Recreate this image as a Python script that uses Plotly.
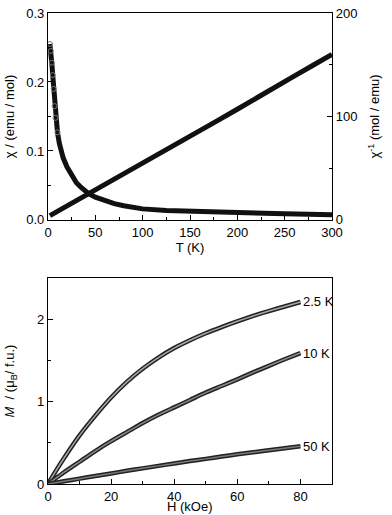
import plotly.graph_objects as go

# --- top panel: susceptibility vs temperature ---
T_chi = [2, 3, 4, 5, 6, 7, 8, 10, 12, 14, 16, 20, 25, 30, 35, 43, 50, 60, 70, 80,
         100, 125, 150, 175, 200, 225, 250, 275, 300]
chi = [0.255, 0.245, 0.228, 0.21, 0.19, 0.165, 0.148, 0.127, 0.111, 0.1, 0.09, 0.077,
       0.064, 0.054, 0.047, 0.038, 0.033, 0.0275, 0.0235, 0.0205, 0.016, 0.0138,
       0.0125, 0.0115, 0.0106, 0.0097, 0.0089, 0.0082, 0.0076]

T_inv = [2, 10, 20, 30, 43, 60, 80, 100, 120, 140, 160, 180, 200, 220, 240, 260, 280, 300]
chi_inv = [4.1, 8.2, 13.3, 18.5, 25.4, 34, 44, 54.5, 65, 75.5, 86, 96.5, 107, 118,
           128.5, 139, 149.5, 160]

chi_ticks = [0.0, 0.1, 0.2, 0.3]
chi_inv_ticks = [0, 100, 200]
T_ticks = [0, 50, 100, 150, 200, 250, 300]

# --- bottom panel: magnetization vs field ---
H = [0, 2.5, 5, 10, 15, 20, 25, 30, 35, 40, 45, 50, 55, 60, 65, 70, 75, 80]
M_2p5K = [0, 0.16, 0.31, 0.59, 0.83, 1.05, 1.24, 1.40, 1.535, 1.65, 1.745, 1.83,
          1.905, 1.975, 2.04, 2.1, 2.155, 2.21]
M_10K = [0, 0.07, 0.14, 0.27, 0.4, 0.52, 0.63, 0.74, 0.84, 0.93, 1.02, 1.11, 1.19,
         1.27, 1.355, 1.435, 1.515, 1.59]
M_50K = [0, 0.016, 0.033, 0.065, 0.097, 0.128, 0.16, 0.19, 0.22, 0.25, 0.278, 0.305,
         0.333, 0.36, 0.385, 0.41, 0.434, 0.458]
curve_labels = ["2.5 K", "10 K", "50 K"]
H_ticks = [0, 20, 40, 60, 80]
M_ticks = [0, 1, 2]

FONT = "Liberation Sans, Arial, sans-serif"

fig = go.Figure()

fig.add_trace(go.Scatter(x=T_chi, y=chi, mode="lines", xaxis="x", yaxis="y",
                         line=dict(color="#111111", width=5), showlegend=False))
fig.add_trace(go.Scatter(x=T_chi[:8], y=chi[:8], mode="markers", xaxis="x", yaxis="y",
                         marker=dict(symbol="circle-open", size=5, color="#777777",
                                     line=dict(width=1)), showlegend=False))
fig.add_trace(go.Scatter(x=T_inv, y=chi_inv, mode="lines", xaxis="x", yaxis="y2",
                         line=dict(color="#111111", width=5), showlegend=False))

for M, lab, inner in zip([M_2p5K, M_10K, M_50K], curve_labels,
                         ["#a8a8a8", "#8a8a8a", "#7a7a7a"]):
    fig.add_trace(go.Scatter(x=H, y=M, mode="lines", xaxis="x2", yaxis="y3",
                             line=dict(color="#222222", width=4.5, shape="spline",
                                       smoothing=0.6), showlegend=False))
    fig.add_trace(go.Scatter(x=H, y=M, mode="lines", xaxis="x2", yaxis="y3",
                             line=dict(color=inner, width=1.5, shape="spline",
                                       smoothing=0.6), showlegend=False))
    fig.add_annotation(x=H[-1], y=M[-1], xref="x2", yref="y3", text=lab,
                       showarrow=False, xanchor="left", xshift=1,
                       font=dict(size=13, color="black", family=FONT))

ax_common = dict(showline=True, linecolor="black", linewidth=1.2, ticks="inside",
                 ticklen=5, tickcolor="black", showgrid=False, zeroline=False,
                 ticklabeloverflow="allow",
                 tickfont=dict(size=13, color="black", family=FONT))

top_dom = [0.5607, 1.0]
bot_dom = [0.0, 0.4372]

fig.update_layout(
    width=392, height=515,
    margin=dict(l=48, r=60, t=6, b=31),
    paper_bgcolor="white", plot_bgcolor="white",
    font=dict(family=FONT, color="black", size=13),
    xaxis=dict(ax_common, domain=[0, 1], anchor="y", range=[0, 300],
               tickvals=T_ticks, mirror=True,
               minor=dict(ticks="inside", dtick=25, ticklen=3, tickcolor="black"),
               title=dict(text="T (K)", standoff=4, font=dict(size=13))),
    yaxis=dict(ax_common, domain=top_dom, anchor="x", range=[0, 0.3],
               tickvals=chi_ticks, ticktext=[f"{v:.1f}" for v in chi_ticks],
               mirror=True,
               minor=dict(ticks="inside", dtick=0.05, ticklen=3, tickcolor="black"),
               title=dict(text="χ / (emu / mol)", standoff=8, font=dict(size=13))),
    yaxis2=dict(ax_common, overlaying="y", side="right", anchor="x", range=[0, 200],
                tickvals=chi_inv_ticks,
                minor=dict(ticks="inside", dtick=50, ticklen=3, tickcolor="black"),
                title=dict(text="χ<sup>-1</sup> (mol / emu)", standoff=13,
                           font=dict(size=13))),
    xaxis2=dict(ax_common, domain=[0, 1], anchor="y3", range=[0, 90],
                tickvals=H_ticks, mirror=True,
                minor=dict(ticks="inside", dtick=10, ticklen=3, tickcolor="black")),
    yaxis3=dict(ax_common, domain=bot_dom, anchor="x2", range=[0, 2.5],
                tickvals=M_ticks, mirror=True,
                minor=dict(ticks="inside", dtick=0.5, ticklen=3, tickcolor="black"),
                title=dict(text="<i>M</i>  / (μ<sub>B</sub>/ f.u.)", standoff=19,
                           font=dict(size=13))),
)
fig.add_annotation(x=0.5, y=-23 / 478, xref="x2 domain", yref="paper",
                   text="H (kOe)", showarrow=False, yanchor="middle",
                   font=dict(size=13, color="black", family=FONT))

fig.write_html("out.html", config={"displayModeBar": False},
               post_script="document.body.style.margin='0';"
                           "document.body.style.overflow='hidden';")
